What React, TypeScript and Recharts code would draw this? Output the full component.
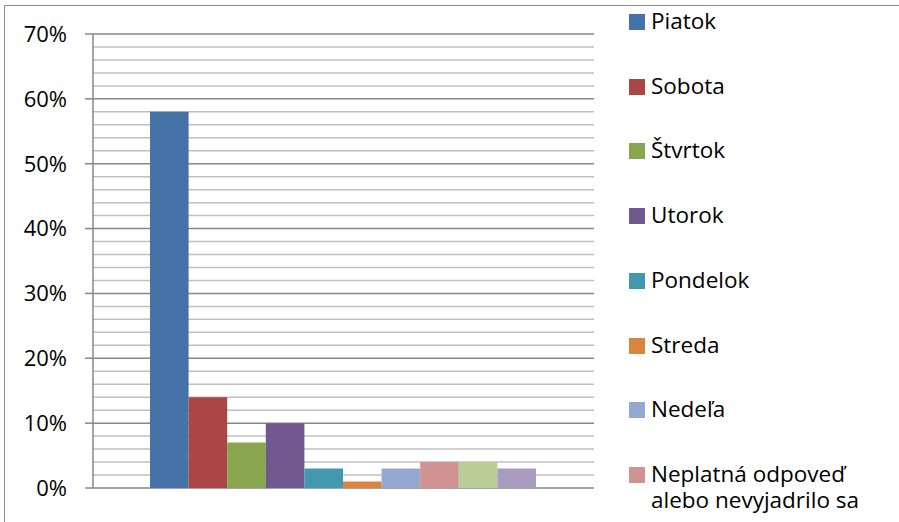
import React from "react";
import { BarChart, Bar, XAxis, YAxis, CartesianGrid } from "recharts";

// one category, one bar per answer
const categories = [""];
const seriesNames = [
  "Piatok",
  "Sobota",
  "Štvrtok",
  "Utorok",
  "Pondelok",
  "Streda",
  "Nedeľa",
  "Neplatná odpoveď alebo nevyjadrilo sa",
  "Iné",
  "Neviem",
];
const seriesValues = [58, 14, 7, 10, 3, 1, 3, 4, 4, 3];
const seriesColors = [
  "#4572A7",
  "#AA4643",
  "#89A54E",
  "#71588F",
  "#4198AF",
  "#DB843D",
  "#93A9CF",
  "#D19392",
  "#B9CD96",
  "#A99BBD",
];
const yTicks = [0, 10, 20, 30, 40, 50, 60, 70];
const minorTicks = [2, 4, 6, 8, 12, 14, 16, 18, 22, 24, 26, 28, 32, 34, 36, 38, 42, 44, 46, 48, 52, 54, 56, 58, 62, 64, 66, 68];
const yMax = 70;
// the legend box in the original is cropped after the 8th entry
const legendVisible = 8;

const data = categories.map((c) => {
  const row: Record<string, string | number> = { category: c };
  seriesNames.forEach((_, i) => {
    row[`s${i}`] = seriesValues[i];
  });
  return row;
});

const FONT = "'Open Sans', sans-serif";

// minor gridlines every 2%, mapped through the y scale when available
const minorLines = ({ yAxis, offset }: any) =>
  minorTicks.map((v) => {
    const s = yAxis && yAxis.scale;
    if (typeof s === "function") return s(v);
    if (s && typeof s.map === "function") return s.map(v);
    return offset.top + offset.height * (1 - v / yMax);
  });

function ChartLegend() {
  return (
    <div style={{ position: "absolute", left: 629, top: 0, fontFamily: FONT, fontSize: 22.5, color: "#000" }}>
      {seriesNames.slice(0, legendVisible).map((name, i) => (
        <div
          key={name}
          style={{
            position: "absolute",
            top: 8 + i * 64.7,
            left: 0,
            width: 260,
            display: "flex",
            alignItems: "flex-start",
            lineHeight: "26px",
          }}
        >
          <span
            style={{
              display: "inline-block",
              width: 16,
              height: 16,
              marginTop: 6,
              marginRight: 6,
              background: seriesColors[i],
              flexShrink: 0,
            }}
          />
          <span style={{ width: 230 }}>{name}</span>
        </div>
      ))}
    </div>
  );
}

export default function App() {
  return (
    <div
      style={{
        position: "absolute",
        left: 0,
        top: 0,
        width: 899,
        height: 522,
        overflow: "hidden",
        background: "#fff",
        fontFamily: FONT,
      }}
    >
      <div
        style={{
          position: "absolute",
          left: 4,
          top: 5,
          width: 1000,
          height: 1000,
          border: "1px solid #8c8c8c",
        }}
      />
      <div style={{ position: "absolute", left: 0, top: 0 }}>
        <BarChart
          width={899}
          height={522}
          data={data}
          margin={{ top: 34, right: 305, bottom: 34, left: 0 }}
          barSize={38.6}
          barGap={0}
        >
          <CartesianGrid
            vertical={false}
            stroke="#c0c0c0"
            strokeWidth={1.5}
            horizontalCoordinatesGenerator={minorLines}
          />
          <CartesianGrid vertical={false} stroke="#878787" strokeWidth={1.5} />
          <XAxis
            dataKey="category"
            height={0}
            tick={false}
            tickLine={false}
            axisLine={{ stroke: "#878787", strokeWidth: 1.5 }}
          />
          <YAxis
            type="number"
            domain={[0, yMax]}
            ticks={yTicks}
            interval={0}
            width={93}
            tickFormatter={(v) => `${v}%`}
            tick={{ fill: "#000", fontSize: 22, fontFamily: FONT }}
            tickSize={8}
            tickMargin={18}
            axisLine={{ stroke: "#878787", strokeWidth: 1.5 }}
            tickLine={{ stroke: "#878787", strokeWidth: 1.5 }}
          />
          {seriesNames.map((name, i) => (
            <Bar key={name} dataKey={`s${i}`} name={name} fill={seriesColors[i]} isAnimationActive={false} />
          ))}
        </BarChart>
      </div>
      <ChartLegend />
    </div>
  );
}
